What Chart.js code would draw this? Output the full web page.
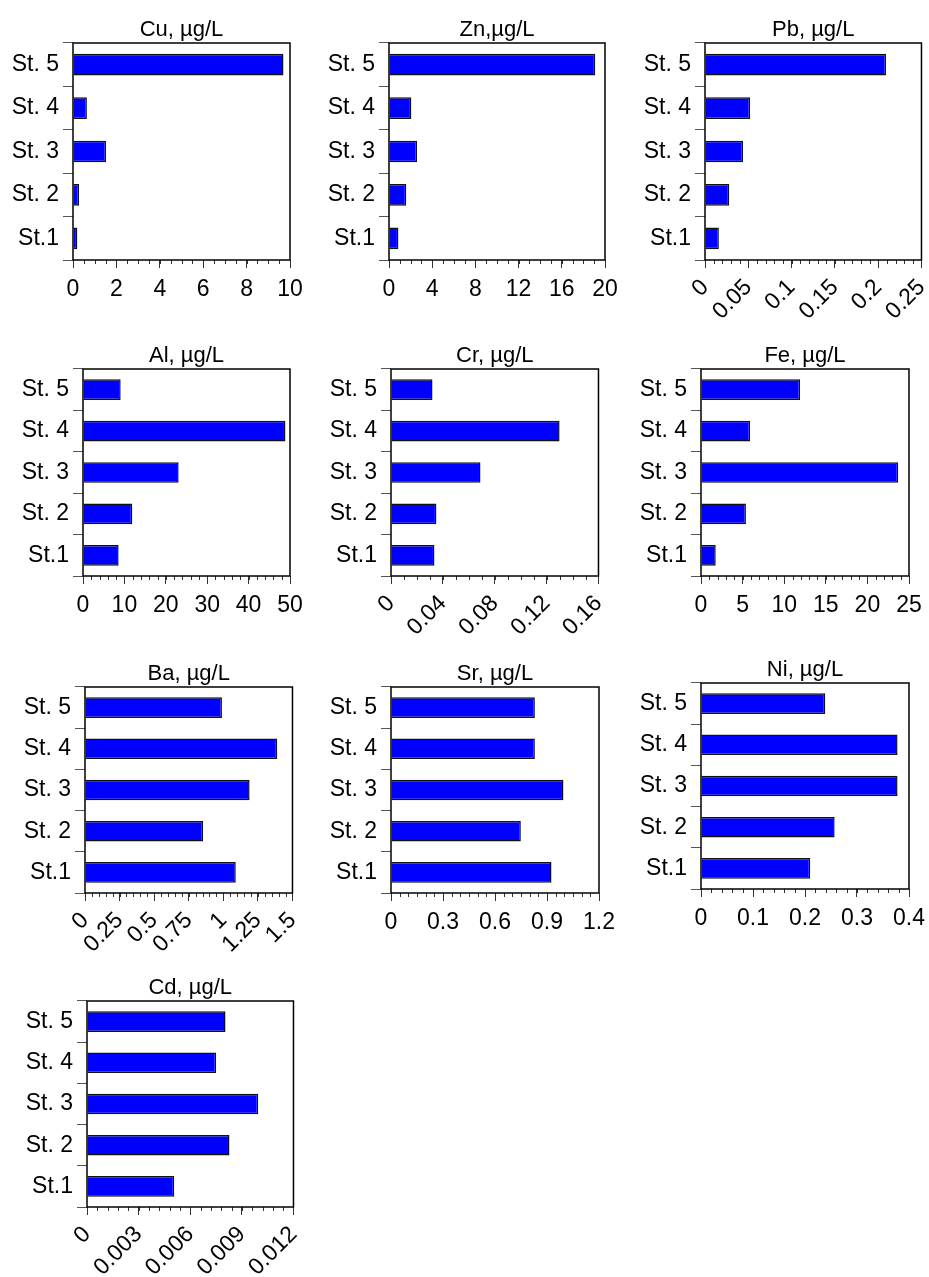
<!DOCTYPE html>
<html>
<head>
<meta charset="utf-8">
<title>Metals by station</title>
<script src="https://cdn.jsdelivr.net/npm/chart.js@4.4.1/dist/chart.umd.min.js"></script>
<style>
  html, body { margin: 0; padding: 0; background: #fff; overflow: hidden; }
  #page { position: relative; width: 929px; height: 1277px; overflow: hidden; }
  #page canvas { position: absolute; }
</style>
</head>
<body>
<div id="page"></div>
<script>
// Stations, bottom to top
const stations = ['St.1', 'St. 2', 'St. 3', 'St. 4', 'St. 5'];

// Concentrations (µg/L), same order as stations
const cuValues = [0.2, 0.28, 1.52, 0.64, 9.7];
const znValues = [0.87, 1.6, 2.6, 2.07, 19.1];
const pbValues = [0.016, 0.028, 0.044, 0.052, 0.209];
const alValues = [8.6, 11.9, 23.1, 48.9, 9.1];
const crValues = [0.0335, 0.035, 0.069, 0.130, 0.032];
const feValues = [1.77, 5.4, 23.7, 5.9, 11.9];
const baValues = [1.09, 0.854, 1.19, 1.39, 0.99];
const srValues = [0.926, 0.749, 0.995, 0.83, 0.83];
const niValues = [0.21, 0.257, 0.378, 0.378, 0.239];
const cdValues = [0.00507, 0.00828, 0.00995, 0.0075, 0.00805];

// x axis tick labels
const cuTicks = [0, 2, 4, 6, 8, 10];
const znTicks = [0, 4, 8, 12, 16, 20];
const pbTicks = [0, 0.05, 0.1, 0.15, 0.2, 0.25];
const alTicks = [0, 10, 20, 30, 40, 50];
const crTicks = [0, 0.04, 0.08, 0.12, 0.16];
const feTicks = [0, 5, 10, 15, 20, 25];
const baTicks = [0, 0.25, 0.5, 0.75, 1, 1.25, 1.5];
const srTicks = [0, 0.3, 0.6, 0.9, 1.2];
const niTicks = [0, 0.1, 0.2, 0.3, 0.4];
const cdTicks = [0, 0.003, 0.006, 0.009, 0.012];

// Panels: frame box on the page [left, top, right, bottom], minor tick step
const panels = [
    { title: 'Cu, µg/L', values: cuValues, ticks: cuTicks, minor: 0.5,    rotate: false, frame: [73, 43, 290, 260] },
    { title: 'Zn,µg/L',  values: znValues, ticks: znTicks, minor: 1,      rotate: false, frame: [389, 43, 605, 260] },
    { title: 'Pb, µg/L', values: pbValues, ticks: pbTicks, minor: 0.01,   rotate: true,  frame: [705, 43, 922, 260] },
    { title: 'Al, µg/L', values: alValues, ticks: alTicks, minor: 2,      rotate: false, frame: [83, 369, 290, 576] },
    { title: 'Cr, µg/L', values: crValues, ticks: crTicks, minor: 0.01,   rotate: true,  frame: [391, 369, 599, 576] },
    { title: 'Fe, µg/L', values: feValues, ticks: feTicks, minor: 1,      rotate: false, frame: [701, 369, 909, 576] },
    { title: 'Ba, µg/L', values: baValues, ticks: baTicks, minor: 0.05,   rotate: true,  frame: [85, 687, 293, 893] },
    { title: 'Sr, µg/L', values: srValues, ticks: srTicks, minor: 0.05,   rotate: false, frame: [391, 687, 599, 893] },
    { title: 'Ni, µg/L', values: niValues, ticks: niTicks, minor: 0.02,   rotate: false, frame: [701, 683, 909, 889] },
    { title: 'Cd, µg/L', values: cdValues, ticks: cdTicks, minor: 0.0006, rotate: true,  frame: [87, 1001, 294, 1207] }
];

const FONT = '"Liberation Sans", Arial, Helvetica, sans-serif';
const Y_AXIS = 75;   // room for station labels
const TOP = 43;      // room for the title
const RIGHT = 25;
const X_AXIS = 80;   // room for x tick labels

// Frame, minor ticks and title of each panel
const framePlugin = {
    id: 'frame',
    afterDraw(chart, args, opts) {
        const { ctx, chartArea: a } = chart;
        const x = chart.scales.x;
        ctx.save();

        ctx.strokeStyle = '#333';
        ctx.lineWidth = 1;
        ctx.beginPath();
        const n = Math.round((x.max - x.min) / opts.minor);
        for (let i = 1; i < n; i++) {
            const px = Math.round(x.getPixelForValue(x.min + i * opts.minor)) + 0.5;
            ctx.moveTo(px, a.bottom);
            ctx.lineTo(px, a.bottom + 4);
        }
        ctx.stroke();

        ctx.strokeStyle = '#000';
        ctx.lineWidth = 1.5;
        ctx.strokeRect(a.left, a.top, a.right - a.left, a.bottom - a.top);

        ctx.fillStyle = '#000';
        ctx.font = '22px ' + FONT;
        ctx.textAlign = 'center';
        ctx.textBaseline = 'alphabetic';
        ctx.fillText(opts.title, (a.left + a.right) / 2, a.top - 7);
        ctx.restore();
    }
};

function createPanel(p) {
    const [l, t, r, b] = p.frame;
    const canvas = document.createElement('canvas');
    canvas.width = (r - l) + Y_AXIS + RIGHT;
    canvas.height = (b - t) + TOP + X_AXIS;
    canvas.style.left = (l - Y_AXIS) + 'px';
    canvas.style.top = (t - TOP) + 'px';
    document.getElementById('page').appendChild(canvas);

    new Chart(canvas, {
        type: 'bar',
        data: {
            labels: stations,
            datasets: [{
                data: p.values,
                backgroundColor: '#0000ff',
                borderColor: '#111',
                borderWidth: 1.5,
                barPercentage: 0.5,
                categoryPercentage: 1
            }]
        },
        options: {
            indexAxis: 'y',
            responsive: false,
            animation: false,
            devicePixelRatio: 1,
            layout: { padding: { top: TOP, right: RIGHT, left: 0, bottom: 0 } },
            plugins: {
                legend: { display: false },
                tooltip: { enabled: false },
                frame: { title: p.title, minor: p.minor }
            },
            scales: {
                y: {
                    reverse: true,
                    grid: { offset: true, drawOnChartArea: false, tickLength: 10, color: '#555' },
                    border: { display: false },
                    ticks: { color: '#000', padding: 4, font: { family: FONT, size: 23 } },
                    afterFit(s) { s.width = Y_AXIS; }
                },
                x: {
                    min: p.ticks[0],
                    max: p.ticks[p.ticks.length - 1],
                    grid: { drawOnChartArea: false, tickLength: 8, color: '#333' },
                    border: { display: false },
                    ticks: {
                        autoSkip: false,
                        minRotation: p.rotate ? 45 : 0,
                        maxRotation: p.rotate ? 45 : 0,
                        color: '#000',
                        padding: p.rotate ? 6 : 8,
                        font: { family: FONT, size: 23 },
                        callback: v => String(+Number(v).toFixed(6))
                    },
                    afterBuildTicks(s) { s.ticks = p.ticks.map(v => ({ value: v })); },
                    afterFit(s) { s.height = X_AXIS; }
                }
            }
        },
        plugins: [framePlugin]
    });
}

panels.forEach(createPanel);
</script>
</body>
</html>
